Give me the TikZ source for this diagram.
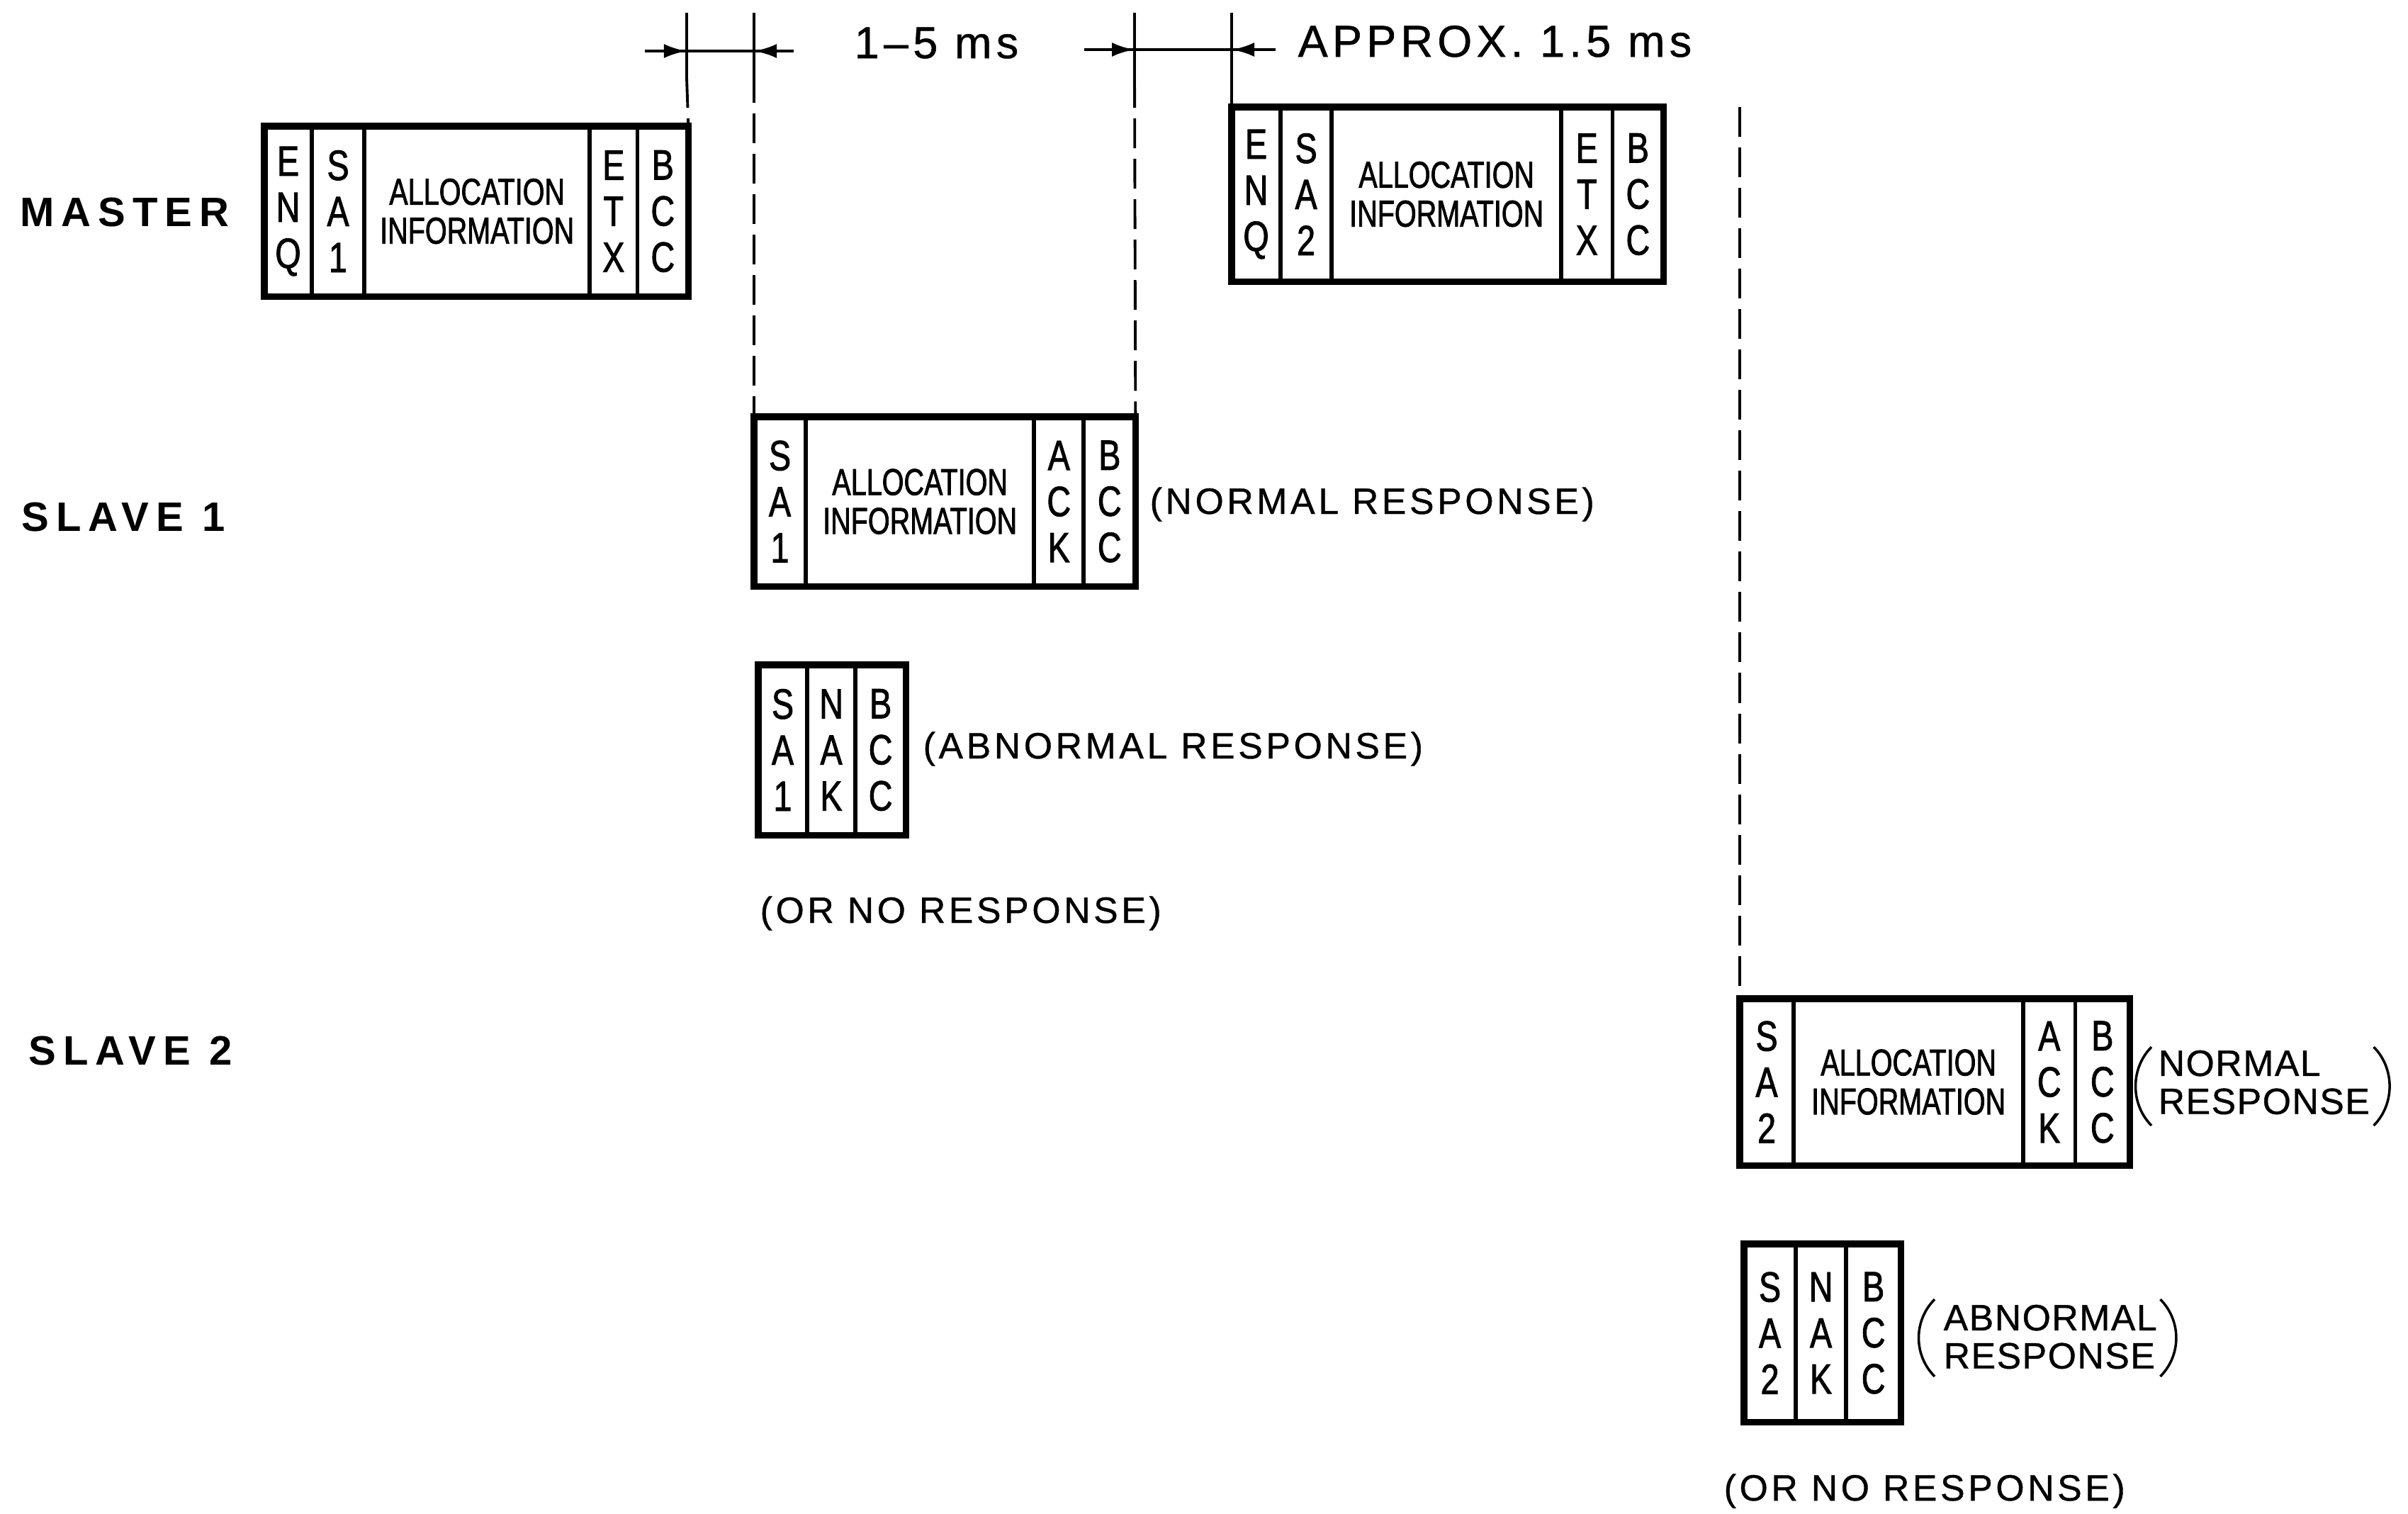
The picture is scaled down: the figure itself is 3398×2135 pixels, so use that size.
\documentclass[tikz,border=0pt]{standalone}
\usepackage{fontspec}
\setmainfont{Liberation Sans}
\newfontfamily\cellfont[FakeStretch=0.78,FakeBold=1.5]{Liberation Sans}
\newfontfamily\infofont[FakeStretch=0.75,FakeBold=1.5]{Liberation Sans}
\newfontfamily\rowfont[LetterSpace=17]{Liberation Sans}
\newfontfamily\notefont[LetterSpace=9,FakeBold=0.8]{Liberation Sans}
\newfontfamily\stackfont[LetterSpace=3,FakeBold=0.8]{Liberation Sans}
\newfontfamily\timefont[LetterSpace=10,FakeBold=0.8]{Liberation Sans}
\usetikzlibrary{positioning,arrows.meta}

\begin{document}
\begin{tikzpicture}[x=0.01cm, y=-0.01cm,
  cell/.style={draw, line width=1.6pt, inner sep=0pt, outer sep=0pt,
    anchor=north west, align=center,
    font=\cellfont\fontsize{17}{18.5}\selectfont},
  info/.style={cell, font=\infofont\fontsize{15}{15.6}\selectfont},
  frame/.style={line width=2.6pt},
  rowlbl/.style={anchor=west, inner sep=0pt,
    font=\rowfont\bfseries\fontsize{16.5}{18}\selectfont},
  note/.style={anchor=base west, inner sep=0pt,
    font=\notefont\fontsize{14.7}{15.3}\selectfont},
  stack/.style={anchor=west, inner sep=0pt, align=left,
    font=\stackfont\fontsize{14.7}{15.3}\selectfont},
  paren/.style={line width=1pt},
  ext/.style={line width=1.1pt},
  extdash/.style={ext, dash pattern=on 0.42cm off 0.15cm},
  dim/.style={line width=1.3pt},
  dimtip/.style={dim, -{Latex[length=0.32cm,width=0.2cm]}},
  timelbl/.style={anchor=base west, inner sep=0pt,
    font=\timefont\fontsize{17.9}{20}\selectfont}]
  \useasboundingbox (0,0) rectangle (3398,2135);

  % Row labels
  \node[rowlbl] (lmaster) at (28,300) {MASTER};
  \node[rowlbl] (lslave1) at (30,729) {SLAVE 1};
  \node[rowlbl] (lslave2) at (40,1482) {SLAVE 2};

  % Master frame to slave 1
  \node[cell, minimum height=2.4cm, minimum width=0.67cm] (m1enq) at (373,178) {E\\N\\Q};
  \node[cell, minimum height=2.4cm, minimum width=0.74cm, right=0pt of m1enq] (m1sa) {S\\A\\1};
  \node[info, minimum height=2.4cm, minimum width=3.18cm, right=0pt of m1sa] (m1info) {ALLOCATION\\INFORMATION};
  \node[cell, minimum height=2.4cm, minimum width=0.67cm, right=0pt of m1info] (m1etx) {E\\T\\X};
  \node[cell, minimum height=2.4cm, minimum width=0.72cm, right=0pt of m1etx] (m1bcc) {B\\C\\C};
  \draw[frame] (m1enq.north west) rectangle (m1bcc.south east);

  % Master frame to slave 2
  \node[cell, minimum height=2.46cm, minimum width=0.69cm] (m2enq) at (1738,151) {E\\N\\Q};
  \node[cell, minimum height=2.46cm, minimum width=0.72cm, right=0pt of m2enq] (m2sa) {S\\A\\2};
  \node[info, minimum height=2.46cm, minimum width=3.24cm, right=0pt of m2sa] (m2info) {ALLOCATION\\INFORMATION};
  \node[cell, minimum height=2.46cm, minimum width=0.72cm, right=0pt of m2info] (m2etx) {E\\T\\X};
  \node[cell, minimum height=2.46cm, minimum width=0.72cm, right=0pt of m2etx] (m2bcc) {B\\C\\C};
  \draw[frame] (m2enq.north west) rectangle (m2bcc.south east);

  % Slave 1, normal response
  \node[cell, minimum height=2.39cm, minimum width=0.73cm] (s1sa) at (1064,588) {S\\A\\1};
  \node[info, minimum height=2.39cm, minimum width=3.22cm, right=0pt of s1sa] (s1info) {ALLOCATION\\INFORMATION};
  \node[cell, minimum height=2.39cm, minimum width=0.70cm, right=0pt of s1info] (s1ack) {A\\C\\K};
  \node[cell, minimum height=2.39cm, minimum width=0.73cm, right=0pt of s1ack] (s1bcc) {B\\C\\C};
  \draw[frame] (s1sa.north west) rectangle (s1bcc.south east);
  \node[note] (s1norm) at (1622,725) {(NORMAL RESPONSE)};

  % Slave 1, abnormal response
  \node[cell, minimum height=2.4cm, minimum width=0.69cm] (s1nsa) at (1070,938) {S\\A\\1};
  \node[cell, minimum height=2.4cm, minimum width=0.68cm, right=0pt of s1nsa] (s1nak) {N\\A\\K};
  \node[cell, minimum height=2.4cm, minimum width=0.71cm, right=0pt of s1nak] (s1nbcc) {B\\C\\C};
  \draw[frame] (s1nsa.north west) rectangle (s1nbcc.south east);
  \node[note] (s1abn) at (1302,1070) {(ABNORMAL RESPONSE)};
  \node[note] (s1none) at (1072,1302) {(OR NO RESPONSE)};

  % Slave 2, normal response
  \node[cell, minimum height=2.35cm, minimum width=0.76cm] (s2sa) at (2455,1409) {S\\A\\2};
  \node[info, minimum height=2.35cm, minimum width=3.24cm, right=0pt of s2sa] (s2info) {ALLOCATION\\INFORMATION};
  \node[cell, minimum height=2.35cm, minimum width=0.73cm, right=0pt of s2info] (s2ack) {A\\C\\K};
  \node[cell, minimum height=2.35cm, minimum width=0.77cm, right=0pt of s2ack] (s2bcc) {B\\C\\C};
  \draw[frame] (s2sa.north west) rectangle (s2bcc.south east);
  \node[stack] (s2norm) at (3045,1527) {NORMAL\\RESPONSE};
  \draw[paren] ([shift={(-9,-4)}]s2norm.north west) .. controls +(-30,30) and +(-30,-30) .. ([shift={(-9,15)}]s2norm.south west);
  \draw[paren] ([shift={(5,-4)}]s2norm.north east) .. controls +(30,30) and +(30,-30) .. ([shift={(5,15)}]s2norm.south east);

  % Slave 2, abnormal response
  \node[cell, minimum height=2.51cm, minimum width=0.73cm] (s2nsa) at (2461,1755) {S\\A\\2};
  \node[cell, minimum height=2.51cm, minimum width=0.71cm, right=0pt of s2nsa] (s2nak) {N\\A\\K};
  \node[cell, minimum height=2.51cm, minimum width=0.77cm, right=0pt of s2nak] (s2nbcc) {B\\C\\C};
  \draw[frame] (s2nsa.north west) rectangle (s2nbcc.south east);
  \node[stack] (s2abn) at (2742,1886) {ABNORMAL\\RESPONSE};
  \draw[paren] ([shift={(-12,-7)}]s2abn.north west) .. controls +(-30,30) and +(-30,-30) .. ([shift={(-12,10)}]s2abn.south west);
  \draw[paren] ([shift={(4,-7)}]s2abn.north east) .. controls +(30,30) and +(30,-30) .. ([shift={(4,10)}]s2abn.south east);
  \node[note] (s2none) at (2432,2117) {(OR NO RESPONSE)};

  % Timing lines
  \coordinate (t1) at (969,18);
  \coordinate (t1b) at (969,110);
  \coordinate (t2) at (1064,18);
  \coordinate (t2b) at (1064,103);
  \coordinate (t3) at (1601,18);
  \coordinate (t3b) at (1601,110);
  \coordinate (t4) at (1738,18);
  \coordinate (t5) at (2455,151);
  \draw[ext] (t1) -- (t1b);
  \draw[extdash] (t1b) -- (m1bcc.north east);
  \draw[ext] (t2) -- (t2b);
  \draw[extdash] (t2b) -- (s1sa.north west);
  \draw[ext] (t3) -- (t3b);
  \draw[extdash] (t3b) -- (s1bcc.north east);
  \draw[ext] (t4) -- (m2enq.north west);
  \draw[extdash] (t5) -- (s2sa.north west);

  % Dimensions
  \coordinate (d1l) at (910,72);
  \coordinate (d1r) at (1120,72);
  \coordinate (d2l) at (1530,70);
  \coordinate (d2r) at (1800,70);
  \draw[dim] (d1l) -- (d1r);
  \draw[dimtip] (d1l) -- (t1 |- d1l);
  \draw[dimtip] (d1r) -- (t2 |- d1r);
  \draw[dim] (d2l) -- (d2r);
  \draw[dimtip] (d2l) -- (t3 |- d2l);
  \draw[dimtip] (d2r) -- (t4 |- d2r);
  \node[timelbl] (gap1) at (1205,82) {1–5 ms};
  \node[timelbl] (gap2) at (1831,80) {APPROX. 1.5 ms};
\end{tikzpicture}
\end{document}
